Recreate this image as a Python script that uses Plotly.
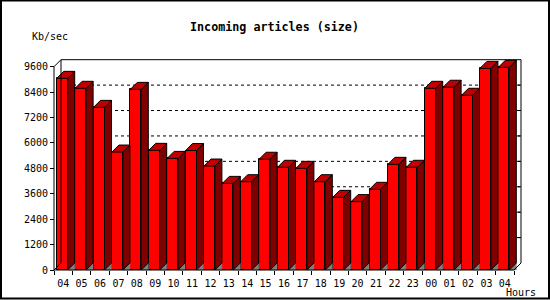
import plotly.graph_objects as go

# ---- data ----
hours = ["04", "05", "06", "07", "08", "09", "10", "11", "12", "13", "14", "15",
         "16", "17", "18", "19", "20", "21", "22", "23", "00", "01", "02", "03", "04"]
kb_sec = [9050, 8580, 7680, 5570, 8530, 5650, 5270, 5640, 4910, 4090, 4170, 5230,
          4850, 4800, 4170, 3430, 3230, 3810, 4990, 4850, 8580, 8630, 8250, 9520, 9570]
y_ticks = [0, 1200, 2400, 3600, 4800, 6000, 7200, 8400, 9600]

# ---- geometry (pixels -> data units) ----
W, H = 550, 300
L, R, T, B = 40, 20, 50, 25          # margins
PX0 = 54                             # px of front y axis
PY0 = 270                            # px of value 0
SLOT = 18.4                          # px per category
KY = 203.3 / 9600                    # px per unit
DEPTH = 7                            # px of 3D depth

pw, ph = W - L - R, H - T - B
x_lo = -0.5 - (PX0 - L) / SLOT
x_hi = x_lo + pw / SLOT
y_lo = -((H - B) - PY0) / KY
y_hi = y_lo + ph / KY
dx = DEPTH / SLOT
dy = DEPTH / KY
face_off = -0.5 + 2.7 / SLOT
face_w = 11.0 / SLOT
n = len(hours)
xs = list(range(n))

def px_x(p):
    return (p - L) / pw

def px_y(p):
    return ((H - B) - p) / ph

fig = go.Figure()

# front faces
fig.add_trace(go.Bar(x=xs, y=kb_sec, width=face_w, offset=face_off,
                     marker=dict(color="#FF0000", line=dict(color="black", width=1)),
                     hoverinfo="skip"))

side_x, side_y, top_x, top_y, sh_x, sh_y = [], [], [], [], [], []
for i, v in enumerate(kb_sec):
    xl = i + face_off
    xr = xl + face_w
    side_x += [xr, xr + dx, xr + dx, xr, xr, None]
    side_y += [0, dy, v + dy, v, 0, None]
    top_x += [xl, xl + dx, xr + dx, xr, xl, None]
    top_y += [v, v + dy, v + dy, v, v, None]
    sh_x += [xr, xr + dx, xr + dx, xr, None]
    sh_y += [0, dy, 0, 0, None]

fig.add_trace(go.Scatter(x=sh_x, y=sh_y, mode="lines", fill="toself",
                         fillcolor="#808080", line=dict(color="#808080", width=0.5),
                         hoverinfo="skip"))
fig.add_trace(go.Scatter(x=side_x, y=side_y, mode="lines", fill="toself",
                         fillcolor="#800000", line=dict(color="black", width=1),
                         hoverinfo="skip"))
fig.add_trace(go.Scatter(x=top_x, y=top_y, mode="lines", fill="toself",
                         fillcolor="#C00000", line=dict(color="black", width=1),
                         hoverinfo="skip"))

shapes = []
xb0, xb1 = -0.5 + dx, (n - 0.5) + dx
ytop = y_ticks[-1]
# dotted gridlines on back wall
for v in y_ticks[1:-1]:
    shapes.append(dict(type="line", xref="x", yref="y", x0=xb0, x1=xb1, y0=v + dy, y1=v + dy,
                       line=dict(color="black", width=1, dash="dot"), layer="below"))
# right-edge ticks on back wall
for v in y_ticks[1:-1]:
    shapes.append(dict(type="line", xref="x", yref="y", x0=xb1 - 3 / SLOT, x1=xb1,
                       y0=v + dy, y1=v + dy, line=dict(color="black", width=1), layer="below"))
frame = [
    (xb0, dy, xb0, ytop + dy),           # back left
    (xb0, ytop + dy, xb1, ytop + dy),    # back top
    (xb1, ytop + dy, xb1, dy),           # back right
    (-0.5, ytop, xb0, ytop + dy),        # top-left diagonal
    (-0.5, 0, xb0, dy),                  # bottom-left diagonal
    (n - 0.5, 0, xb1, dy),               # bottom-right diagonal
    (-0.5, 0, -0.5, ytop),               # front axis
    (-0.5, 0, n - 0.5, 0),               # front floor edge
]
for x0, y0, x1, y1 in frame:
    shapes.append(dict(type="line", xref="x", yref="y", x0=x0, y0=y0, x1=x1, y1=y1,
                       line=dict(color="black", width=1), layer="above"))
# image border
shapes.append(dict(type="rect", xref="paper", yref="paper",
                   x0=px_x(1), x1=px_x(549), y0=px_y(298.5), y1=px_y(0.5),
                   line=dict(color="black", width=2), layer="above"))

font = dict(family="DejaVu Sans Mono", size=10, color="black")

fig.update_layout(
    width=W, height=H,
    margin=dict(l=L, r=R, t=T, b=B, pad=0),
    paper_bgcolor="white", plot_bgcolor="white",
    showlegend=False,
    font=font,
    shapes=shapes,
    title=dict(text="<b>Incoming articles (size)</b>", x=274.5 / W, xanchor="center",
               y=1 - 26.5 / H, yanchor="middle", xref="container", yref="container",
               font=dict(family="DejaVu Sans Mono", size=11.7, color="black")),
    xaxis=dict(range=[x_lo, x_hi], tickmode="array", tickvals=xs, ticktext=hours,
               ticks="outside", ticklen=4, tickcolor="rgba(0,0,0,0)",
               showgrid=False, zeroline=False, showline=False,
               anchor="free", position=px_y(PY0), tickfont=font,
               minor=dict(tickmode="array", tickvals=[i - 0.5 for i in range(n + 1)],
                          ticks="outside", ticklen=4, tickcolor="black", tickwidth=1,
                          showgrid=False)),
    yaxis=dict(range=[y_lo, y_hi], tickmode="array", tickvals=y_ticks,
               ticks="outside", ticklen=4, tickcolor="black",
               showgrid=False, zeroline=False, showline=False,
               anchor="free", position=px_x(PX0), tickfont=font),
    annotations=[
        dict(text="Kb/sec", xref="paper", yref="paper", x=px_x(30), y=px_y(36.7),
             xanchor="left", yanchor="middle", showarrow=False, font=font),
        dict(text="Hours", xref="paper", yref="paper", x=px_x(504), y=px_y(292.3),
             xanchor="left", yanchor="middle", showarrow=False, font=font),
    ],
    bargap=0,
)

fig.write_html("out.html")
